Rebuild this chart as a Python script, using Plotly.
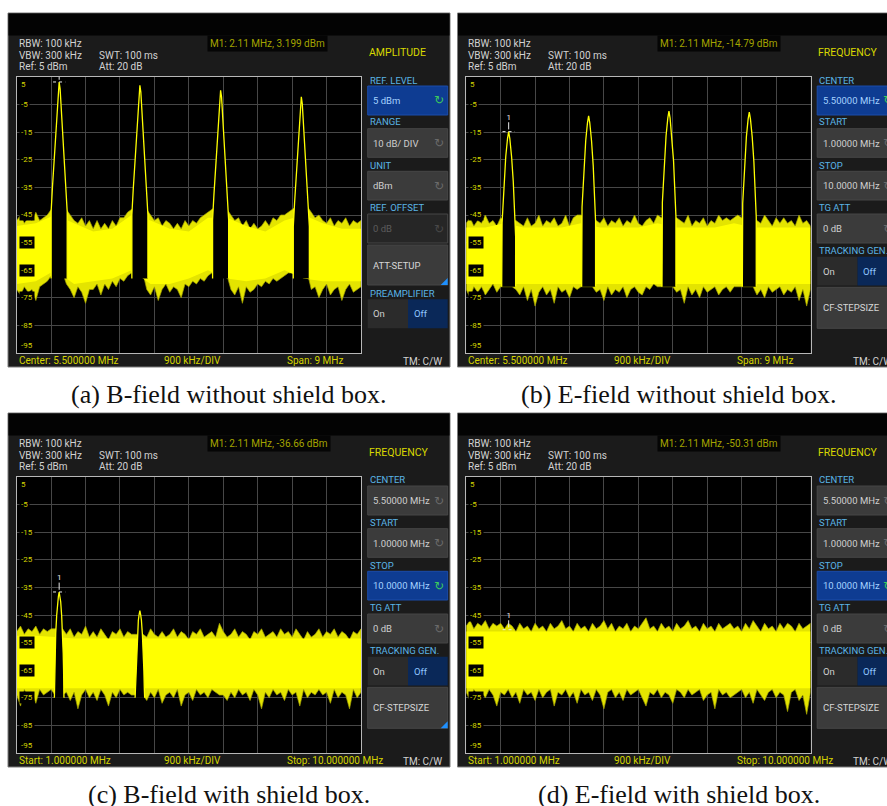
import plotly.graph_objects as go

W, H = 887, 806

# ---------------- data ----------------
FREQ_MHZ = [
    1.0, 1.1, 1.2, 1.3, 1.4, 1.5, 1.6, 1.7, 1.8, 1.9,
    2.0, 2.1, 2.2, 2.3, 2.4, 2.5, 2.6, 2.7, 2.8, 2.9,
    3.0, 3.1, 3.2, 3.3, 3.4, 3.5, 3.6, 3.7, 3.8, 3.9,
    4.0, 4.1, 4.2, 4.3, 4.4, 4.5, 4.6, 4.7, 4.8, 4.9,
    5.0, 5.1, 5.2, 5.3, 5.4, 5.5, 5.6, 5.7, 5.8, 5.9,
    6.0, 6.1, 6.2, 6.3, 6.4, 6.5, 6.6, 6.7, 6.8, 6.9,
    7.0, 7.1, 7.2, 7.3, 7.4, 7.5, 7.6, 7.7, 7.8, 7.9,
    8.0, 8.1, 8.2, 8.3, 8.4, 8.5, 8.6, 8.7, 8.8, 8.9,
    9.0, 9.1, 9.2, 9.3, 9.4, 9.5, 9.6, 9.7, 9.8, 9.9, 10.0,
]
CORE_MHZ = [1.0, 1.5, 2.0, 2.5, 3.0, 3.5, 4.0, 4.5, 5.0, 5.5,
            6.0, 6.5, 7.0, 7.5, 8.0, 8.5, 9.0, 9.5, 10.0]
Y_TICKS = [5, -5, -15, -25, -35, -45, -55, -65, -75, -85, -95]

# (a) B-field without shield box
A_UPPER = [
    -47, -45, -48, -46, -47, -44, -47, -46, -45, -43,
    -42, -42, -42, -43, -45, -47, -48, -46, -49, -47,
    -50, -47, -50, -48, -50, -47, -49, -46, -46, -44,
    -43, -42, -42, -42, -43, -45, -47, -46, -49, -47,
    -48, -50, -48, -50, -47, -49, -47, -48, -46, -45,
    -44, -43, -42, -42, -42, -43, -45, -47, -46, -49,
    -47, -50, -48, -50, -49, -47, -49, -46, -47, -45,
    -45, -44, -43, -42, -42, -42, -42, -44, -46, -45,
    -47, -48, -46, -49, -47, -48, -46, -49, -47, -48, -47,
]
A_LOWER = [
    -72, -74, -71, -73, -72, -76, -71, -70, -69, -67,
    -66, -66, -66, -70, -72, -75, -71, -73, -77, -72,
    -72, -70, -74, -70, -72, -69, -71, -68, -69, -67,
    -66, -66, -66, -66, -72, -74, -71, -76, -72, -70,
    -73, -71, -72, -75, -70, -71, -69, -70, -68, -69,
    -67, -66, -66, -66, -66, -67, -72, -74, -71, -77,
    -71, -73, -72, -70, -71, -69, -70, -68, -69, -68,
    -67, -66, -66, -66, -66, -66, -66, -72, -71, -75,
    -72, -70, -74, -72, -71, -76, -72, -70, -73, -72, -71,
]
A_CORE_UPPER = [-49, -48, -45, -48, -51, -50, -45, -47, -50, -51,
                -46, -46, -49, -51, -47, -45, -48, -50, -50]
A_CORE_LOWER = [-70, -69, -65, -70, -69, -68, -65, -70, -70, -68,
                -65, -68, -69, -68, -65, -68, -69, -69, -69]
A_PEAK_MHZ = [2.11, 4.22, 6.33, 8.44]
A_PEAK_DBM = [3.2, 2.0, 0.2, -2.2]
A_PROFILE_OFFSET = [0.0, 0.025, 0.05, 0.085, 0.13, 0.175, 0.21]
A_PROFILE_DROP = [0.0, 2.5, 8.0, 18.0, 28.0, 38.0, 47.0]
A_SKIRT_FLOOR = -68
A_SKIRT_HALFWIDTH = 0.21
A_MARKER_DBM = 3.199

# (b) E-field without shield box
B_UPPER = [
    -48, -46, -49, -47, -48, -45, -48, -47, -49, -46,
    -47, -47, -47, -47, -48, -49, -46, -49, -48, -45,
    -49, -47, -48, -46, -49, -48, -45, -49, -46, -45,
    -45, -46, -46, -46, -47, -48, -46, -49, -47, -48,
    -46, -49, -47, -48, -45, -48, -49, -47, -46, -48,
    -45, -46, -46, -46, -46, -46, -47, -48, -45, -49,
    -47, -48, -46, -49, -47, -48, -45, -47, -46, -47,
    -46, -45, -46, -46, -46, -46, -47, -48, -45, -47,
    -49, -46, -48, -46, -48, -47, -49, -45, -48, -47, -49,
]
B_LOWER = [
    -72, -75, -71, -73, -71, -74, -72, -70, -73, -71,
    -71, -71, -71, -72, -74, -71, -76, -72, -78, -73,
    -71, -74, -72, -77, -71, -73, -72, -75, -71, -72,
    -71, -71, -71, -71, -73, -72, -76, -71, -74, -72,
    -73, -71, -75, -72, -71, -73, -74, -71, -72, -70,
    -71, -71, -71, -71, -71, -73, -72, -77, -71, -74,
    -72, -75, -71, -73, -72, -71, -74, -72, -71, -73,
    -71, -71, -71, -71, -71, -71, -74, -72, -75, -71,
    -73, -72, -71, -74, -72, -73, -71, -76, -72, -78, -72,
]
B_CORE_UPPER = [-49.5, -49.5, -48, -49.5, -49.5, -49.5, -48, -49.5, -49.5, -49.5,
                -48, -49.5, -49.5, -49.5, -48, -49.5, -49.5, -49.5, -49.5]
B_CORE_LOWER = [-70, -70, -70, -70, -70, -70, -70, -70, -70, -70,
                -70, -70, -70, -70, -70, -70, -70, -70, -70]
B_PEAK_MHZ = [2.11, 4.20, 6.30, 8.40]
B_PEAK_DBM = [-14.8, -9.1, -7.4, -7.7]
B_PROFILE_OFFSET = [0.0, 0.03, 0.076, 0.12, 0.148, 0.172, 0.182]
B_PROFILE_DROP = [0.0, 2.5, 9.0, 18.0, 27.0, 33.0, 38.0]
B_SKIRT_FLOOR = -71
B_SKIRT_HALFWIDTH = 0.182
B_MARKER_DBM = -14.79

# (c) B-field with shield box
C_UPPER = [
    -51, -49, -52, -50, -51, -49, -52, -50, -51, -50,
    -50, -50, -50, -52, -50, -53, -51, -52, -49, -53,
    -51, -53, -50, -52, -54, -51, -52, -50, -53, -51,
    -52, -52, -52, -52, -53, -50, -52, -53, -51, -53,
    -52, -50, -53, -51, -52, -54, -51, -52, -50, -53,
    -52, -51, -53, -48, -51, -53, -52, -50, -53, -51,
    -52, -54, -51, -52, -50, -53, -52, -51, -53, -50,
    -52, -51, -53, -50, -52, -54, -51, -53, -52, -50,
    -53, -51, -52, -50, -53, -51, -52, -54, -51, -52, -50,
]
C_LOWER = [
    -74, -78, -72, -75, -73, -77, -72, -74, -73, -72,
    -74, -74, -74, -73, -76, -73, -79, -74, -72, -75,
    -73, -76, -72, -74, -78, -73, -75, -72, -74, -73,
    -74, -74, -74, -74, -76, -73, -75, -72, -77, -74,
    -73, -75, -72, -78, -74, -73, -76, -72, -74, -73,
    -75, -72, -73, -74, -74, -76, -73, -75, -72, -74,
    -73, -76, -72, -74, -79, -73, -75, -72, -74, -73,
    -76, -72, -74, -73, -78, -72, -75, -73, -74, -72,
    -74, -73, -77, -72, -75, -73, -74, -79, -72, -75, -73,
]
C_CORE_UPPER = [-52.5, -52.5, -53, -53.5, -53.5, -53.5, -53.5, -53.5, -53.5, -53.5,
                -53.5, -53.5, -53.5, -53.5, -53.5, -53.5, -53.5, -53.5, -53.5]
C_CORE_LOWER = [-71.5, -71.5, -71.5, -71.5, -71.5, -71.5, -71.5, -71.5, -71.5, -71.5,
                -71.5, -71.5, -71.5, -71.5, -71.5, -71.5, -71.5, -71.5, -71.5]
C_PEAK_MHZ = [2.11, 4.22]
C_PEAK_DBM = [-36.7, -43.4]
C_PROFILE_OFFSET = [0.0, 0.02, 0.04, 0.065, 0.09, 0.105, 0.115]
C_PROFILE_DROP = [0.0, 1.5, 3.5, 8.5, 15.0, 22.0, 28.0]
C_SKIRT_FLOOR = -75
C_SKIRT_HALFWIDTH = 0.125
C_MARKER_DBM = -36.66

# (d) E-field with shield box
D_UPPER = [
    -49, -47, -50, -48, -49, -47, -50, -48, -49, -48,
    -50, -48, -49, -51, -48, -50, -49, -51, -48, -50,
    -49, -51, -48, -50, -49, -47, -50, -49, -51, -48,
    -50, -49, -51, -48, -50, -49, -47, -50, -48, -51,
    -49, -50, -48, -51, -49, -50, -48, -46, -50, -49,
    -51, -48, -50, -49, -51, -48, -50, -49, -47, -50,
    -49, -51, -48, -50, -49, -51, -48, -50, -49, -48,
    -50, -49, -51, -48, -50, -47, -49, -51, -48, -50,
    -49, -51, -48, -50, -48, -49, -51, -48, -50, -49, -48,
]
D_LOWER = [
    -73, -76, -72, -74, -73, -75, -72, -74, -78, -73,
    -74, -72, -75, -73, -77, -72, -74, -73, -76, -72,
    -75, -73, -72, -78, -73, -74, -72, -75, -73, -77,
    -72, -74, -73, -76, -72, -74, -79, -73, -72, -75,
    -73, -76, -72, -74, -73, -72, -75, -78, -73, -74,
    -72, -75, -73, -74, -77, -72, -73, -75, -72, -74,
    -73, -72, -76, -74, -73, -79, -72, -74, -73, -75,
    -74, -73, -72, -75, -73, -77, -72, -74, -76, -73,
    -72, -75, -73, -74, -80, -73, -72, -76, -74, -81, -73,
]
D_CORE_UPPER = [-51, -51, -51, -51, -51, -51, -51, -51, -51, -51,
                -51, -51, -51, -51, -51, -51, -51, -51, -51]
D_CORE_LOWER = [-71.5, -71.5, -71.5, -71.5, -71.5, -71.5, -71.5, -71.5, -71.5, -71.5,
                -71.5, -71.5, -71.5, -71.5, -71.5, -71.5, -71.5, -71.5, -71.5]
D_MARKER_DBM = -50.31

MARKER_MHZ = 2.11

HEADER_LINES = ["RBW: 100 kHz", "VBW: 300 kHz", "Ref: 5 dBm"]
HEADER_LINES_2 = ["SWT: 100 ms", "Att: 20 dB"]
READOUTS = [
    "M1: 2.11 MHz, 3.199 dBm",
    "M1: 2.11 MHz, -14.79 dBm",
    "M1: 2.11 MHz, -36.66 dBm",
    "M1: 2.11 MHz, -50.31 dBm",
]
BOTTOM_SPAN = ["Center: 5.500000 MHz", "900 kHz/DIV", "Span: 9 MHz"]
BOTTOM_STARTSTOP = ["Start: 1.000000 MHz", "900 kHz/DIV", "Stop: 10.000000 MHz"]
CAPTIONS = [
    "(a) B-field without shield box.",
    "(b) E-field without shield box.",
    "(c) B-field with shield box.",
    "(d) E-field with shield box.",
]
AMP_MENU = [("REF. LEVEL", "5 dBm"), ("RANGE", "10 dB/ DIV"), ("UNIT", "dBm"), ("REF. OFFSET", "0 dB")]
FREQ_MENU = [("CENTER", "5.50000 MHz"), ("START", "1.00000 MHz"), ("STOP", "10.0000 MHz"), ("TG ATT", "0 dB")]

# ---------------- style ----------------
SCREEN_FONT = "Roboto, 'DejaVu Sans', sans-serif"
CAPTION_FONT = "'Liberation Serif', 'DejaVu Serif', serif"
YEL = "#ffff00"
FRINGE = "#e4e400"
FRINGE_EDGE = "#a3a300"
GRID = "#474747"
BORDER = "#b8b8b8"
PANEL_BG = "#1b1b1b"
LABEL_BLUE = "#5ab4e6"
TITLE_YEL = "#d8d800"
AXIS_YEL = "#d4d400"
TXT = "#d2d2d2"

shapes, annos = [], []


def px(x):
    return x / W


def py(y):
    return 1 - y / H


def rect(x0, y0, x1, y1, fill, line=None, lw=0):
    shapes.append(dict(type="rect", xref="paper", yref="paper",
                       x0=px(x0), x1=px(x1), y0=py(y1), y1=py(y0),
                       fillcolor=fill, line=dict(color=line if line else fill, width=lw),
                       layer="below"))


def text(x, y, s, color, size=10, xanchor="left", yanchor="middle", family=SCREEN_FONT, bg=None, pad=1):
    a = dict(x=px(x), y=py(y), xref="paper", yref="paper", text=s, showarrow=False,
             xanchor=xanchor, yanchor=yanchor, borderpad=pad,
             font=dict(family=family, size=size, color=color))
    if bg:
        a["bgcolor"] = bg
    annos.append(a)


def box(ox, oy, y0, y1, kind, label, x0=367.7, x1=447.7):
    fills = {"sel": "#0e3c92", "norm": "#3b3b3b", "dis": "#262626", "btn": "#3b3b3b"}
    edge = "#1b4cab" if kind == "sel" else "#474747"
    rect(x0 + ox, y0 + oy, x1 + ox, y1 + oy, fills[kind], edge, 1)
    col = {"sel": "#a5d2ff", "norm": "#cfcfcf", "dis": "#5c5c5c", "btn": "#d6d6d6"}[kind]
    text(x0 + ox + 3.5, (y0 + y1) / 2 + oy, label, col, 9.5)
    if kind in ("sel", "norm", "dis"):
        icol = {"sel": "#3ccb5c", "norm": "#6a6a6a", "dis": "#484848"}[kind]
        text(x1 + ox - 2, (y0 + y1) / 2 + oy, "↻", icol, 12, xanchor="right", family="'DejaVu Sans'")
    if kind == "btn":
        shapes.append(dict(type="path", xref="paper", yref="paper",
                           path=f"M {px(x1 + ox)} {py(y1 + oy - 7)} L {px(x1 + ox)} {py(y1 + oy)} L {px(x1 + ox - 7)} {py(y1 + oy)} Z",
                           fillcolor="#1e90ff", line=dict(width=0), layer="below"))


def onoff(ox, oy, y0, y1, x0=367.7, xm=408, x1=447.7):
    rect(x0 + ox, y0 + oy, xm + ox, y1 + oy, "#2b2b2b")
    rect(xm + ox, y0 + oy, x1 + ox, y1 + oy, "#0a2858")
    text(x0 + ox + 3.5, (y0 + y1) / 2 + oy, "On", "#cfcfcf", 9.5)
    text(xm + ox + 3.5, (y0 + y1) / 2 + oy, "Off", "#8fc6ff", 9.5)


SLOTS = [(80, 86, 115), (122, 128.7, 157.3), (165, 171.3, 200), (207.7, 214, 243)]

PANELS = [
    dict(n=1, ox=0, oy=0, upper=A_UPPER, lower=A_LOWER, cu=A_CORE_UPPER, cl=A_CORE_LOWER,
         pf=A_PEAK_MHZ, pdb=A_PEAK_DBM, poff=A_PROFILE_OFFSET, pdrop=A_PROFILE_DROP,
         floor=A_SKIRT_FLOOR, half=A_SKIRT_HALFWIDTH, mk=A_MARKER_DBM, menu="amp", sel=0,
         bottom=BOTTOM_SPAN),
    dict(n=2, ox=449.5, oy=0, upper=B_UPPER, lower=B_LOWER, cu=B_CORE_UPPER, cl=B_CORE_LOWER,
         pf=B_PEAK_MHZ, pdb=B_PEAK_DBM, poff=B_PROFILE_OFFSET, pdrop=B_PROFILE_DROP,
         floor=B_SKIRT_FLOOR, half=B_SKIRT_HALFWIDTH, mk=B_MARKER_DBM, menu="freq", sel=0,
         bottom=BOTTOM_SPAN),
    dict(n=3, ox=0, oy=400, upper=C_UPPER, lower=C_LOWER, cu=C_CORE_UPPER, cl=C_CORE_LOWER,
         pf=C_PEAK_MHZ, pdb=C_PEAK_DBM, poff=C_PROFILE_OFFSET, pdrop=C_PROFILE_DROP,
         floor=C_SKIRT_FLOOR, half=C_SKIRT_HALFWIDTH, mk=C_MARKER_DBM, menu="freq", sel=2,
         bottom=BOTTOM_STARTSTOP),
    dict(n=4, ox=449.5, oy=400, upper=D_UPPER, lower=D_LOWER, cu=D_CORE_UPPER, cl=D_CORE_LOWER,
         pf=[], pdb=[], poff=C_PROFILE_OFFSET, pdrop=C_PROFILE_DROP,
         floor=C_SKIRT_FLOOR, half=C_SKIRT_HALFWIDTH, mk=D_MARKER_DBM, menu="freq", sel=2,
         bottom=BOTTOM_STARTSTOP),
]

fig = go.Figure()
layout_axes = {}

for i, P in enumerate(PANELS):
    n, ox, oy = P["n"], P["ox"], P["oy"]
    xa = "x" if n == 1 else f"x{n}"
    ya = "y" if n == 1 else f"y{n}"
    # frame
    rect(8 + ox, 13 + oy, 450 + ox, 367 + oy, PANEL_BG, "#7c7c7c", 1)
    rect(8.5 + ox, 13.5 + oy, 449.5 + ox, 35.5 + oy, "#030303")
    rect(16.7 + ox, 77 + oy, 361 + ox, 353 + oy, "#000000")

    # axes
    layout_axes["xaxis" + ("" if n == 1 else str(n))] = dict(
        domain=[px(16.7 + ox), px(361 + ox)], range=[1, 10], anchor=ya,
        tick0=1, dtick=0.9, showgrid=True, gridcolor=GRID, gridwidth=1, zeroline=False,
        showticklabels=False, ticks="", showline=True, mirror=True, linecolor=BORDER,
        linewidth=1, fixedrange=True)
    layout_axes["yaxis" + ("" if n == 1 else str(n))] = dict(
        domain=[py(353 + oy), py(77 + oy)], range=[-95, 5], anchor=xa,
        tick0=5, dtick=10, showgrid=True, gridcolor=GRID, gridwidth=1, zeroline=False,
        showticklabels=False, ticks="", showline=True, mirror=True, linecolor=BORDER,
        linewidth=1, fixedrange=True)

    # noise band: spiky fringe + solid core
    fig.add_trace(go.Scatter(
        x=FREQ_MHZ + FREQ_MHZ[::-1], y=P["upper"] + P["lower"][::-1],
        fill="toself", fillcolor=FRINGE, mode="lines", line=dict(color=FRINGE_EDGE, width=0.7),
        xaxis=xa, yaxis=ya, hoverinfo="skip", showlegend=False))
    fig.add_trace(go.Scatter(
        x=CORE_MHZ + CORE_MHZ[::-1], y=P["cu"] + P["cl"][::-1],
        fill="toself", fillcolor=YEL, mode="lines", line=dict(color=YEL, width=0),
        xaxis=xa, yaxis=ya, hoverinfo="skip", showlegend=False))

    # peaks
    for f0, L in zip(P["pf"], P["pdb"]):
        off, drop = P["poff"], P["pdrop"]
        xs = [f0 - P["half"]] + [f0 - o for o in reversed(off)] + [f0 + o for o in off[1:]] + [f0 + P["half"]]
        ys = [P["floor"]] + [L - d for d in reversed(drop)] + [L - d for d in drop[1:]] + [P["floor"]]
        fig.add_trace(go.Scatter(x=xs, y=ys, fill="toself", fillcolor="#000000", mode="lines",
                                 line=dict(width=0, color="#000000"), xaxis=xa, yaxis=ya,
                                 hoverinfo="skip", showlegend=False))
        fig.add_trace(go.Scatter(x=xs, y=ys, mode="lines", line=dict(color=YEL, width=1.3),
                                 xaxis=xa, yaxis=ya, hoverinfo="skip", showlegend=False))

    # marker M1
    mk = P["mk"]
    fig.add_trace(go.Scatter(x=[MARKER_MHZ - 0.16, MARKER_MHZ + 0.16], y=[mk, mk], mode="lines",
                             line=dict(color="#e6e6e6", width=1, dash="dot"),
                             xaxis=xa, yaxis=ya, hoverinfo="skip", showlegend=False))
    fig.add_trace(go.Scatter(x=[MARKER_MHZ, MARKER_MHZ], y=[mk + 0.8, mk + 3.4], mode="lines",
                             line=dict(color="#e6e6e6", width=1),
                             xaxis=xa, yaxis=ya, hoverinfo="skip", showlegend=False))
    if mk + 5.0 < Y_TICKS[0]:
        fig.add_trace(go.Scatter(x=[MARKER_MHZ], y=[mk + 5.0], mode="text", text=["1"],
                                 textfont=dict(color="#eeeeee", size=8, family=SCREEN_FONT),
                                 cliponaxis=True, xaxis=xa, yaxis=ya, hoverinfo="skip",
                                 showlegend=False))

    # y labels
    for v in Y_TICKS:
        yanc, ysh = "middle", 0
        if v == Y_TICKS[0]:
            yanc, ysh = "top", -1
        elif v == Y_TICKS[-1]:
            yanc, ysh = "bottom", 1
        annos.append(dict(x=1.0, y=v, xref=xa, yref=ya, text=str(v), showarrow=False,
                          xanchor="left", yanchor=yanc, xshift=2, yshift=ysh, borderpad=1,
                          bgcolor="#000000", font=dict(family=SCREEN_FONT, size=8, color=AXIS_YEL)))

    # header
    for k, s in enumerate(HEADER_LINES):
        text(16.7 + ox, 43.3 + 11.7 * k + oy, s, TXT, 10)
    for k, s in enumerate(HEADER_LINES_2):
        text(96.7 + ox, 55 + 11.7 * k + oy, s, TXT, 10)
    text(207 + ox, 43.8 + oy, READOUTS[i], "#a4a400", 10, bg="#050505", pad=2)

    # bottom
    text(16.7 + ox, 360.7 + oy, P["bottom"][0], AXIS_YEL, 10)
    text(162 + ox, 360.7 + oy, P["bottom"][1], AXIS_YEL, 10)
    text(285 + ox, 360.7 + oy, P["bottom"][2], AXIS_YEL, 10)
    text(444 + ox, 361.5 + oy, "TM: C/W", TXT, 10, xanchor="right")

    # side menu
    if P["menu"] == "amp":
        text(366.7 + ox, 52.7 + oy, "AMPLITUDE", TITLE_YEL, 10.5)
        for k, (lab, val) in enumerate(AMP_MENU):
            ly, b0, b1 = SLOTS[k]
            text(367.7 + ox, ly + oy, lab, LABEL_BLUE, 9.5)
            kind = "sel" if k == P["sel"] else ("dis" if lab == "REF. OFFSET" else "norm")
            box(ox, oy, b0, b1, kind, val)
        box(ox, oy, 245, 285, "btn", "ATT-SETUP")
        text(367.7 + ox, 293.3 + oy, "PREAMPLIFIER", LABEL_BLUE, 9.5)
        onoff(ox, oy, 299.3, 328.3)
    else:
        text(366.7 + ox, 52.7 + oy, "FREQUENCY", TITLE_YEL, 10.5)
        for k, (lab, val) in enumerate(FREQ_MENU):
            ly, b0, b1 = SLOTS[k]
            text(367.7 + ox, ly + oy, lab, LABEL_BLUE, 9.5)
            box(ox, oy, b0, b1, "sel" if k == P["sel"] else "norm", val)
        text(367.7 + ox, 250.5 + oy, "TRACKING GEN.", LABEL_BLUE, 9.5)
        onoff(ox, oy, 256.7, 285.5)
        box(ox, oy, 287.3, 328.3, "btn", "CF-STEPSIZE")

    # caption
    text(229 + ox, 394 + oy, CAPTIONS[i], "#111111", 26, xanchor="center", family=CAPTION_FONT)

fig.update_layout(
    width=W, height=H, margin=dict(l=0, r=0, t=0, b=0),
    paper_bgcolor="white", plot_bgcolor="#000000", showlegend=False,
    shapes=shapes, annotations=annos, **layout_axes)

fig.write_html("out.html")
